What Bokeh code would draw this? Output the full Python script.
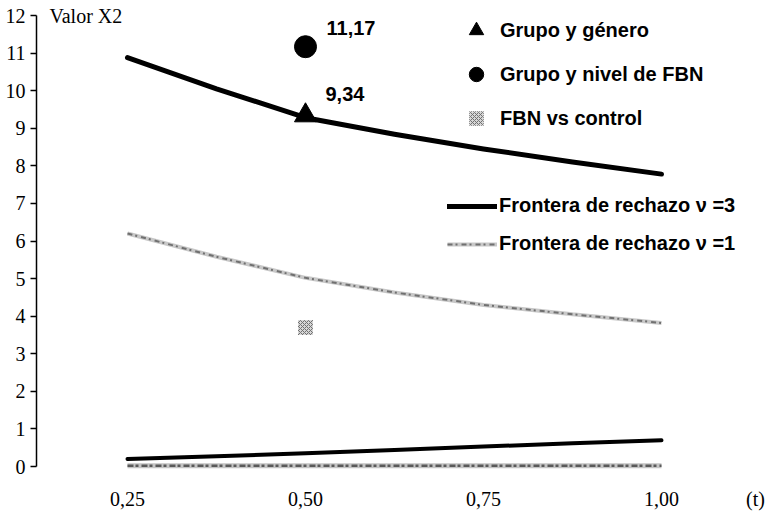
from bokeh.plotting import figure
from bokeh.models import (ColumnDataSource, Legend, LegendItem, Label,
                          FixedTicker, Range1d)
from bokeh.core.properties import value
from bokeh.embed import file_html
from bokeh.resources import INLINE

# Proportion t on the horizontal axis
t = [0.25, 0.375, 0.50, 0.625, 0.75, 0.875, 1.00]

# Rejection frontiers (upper and lower) for nu = 3 and nu = 1
upper_nu3 = [10.88, 10.05, 9.28, 8.84, 8.45, 8.10, 7.78]
lower_nu3 = [0.20, 0.27, 0.35, 0.44, 0.53, 0.62, 0.70]
upper_nu1 = [6.20, 5.58, 5.02, 4.63, 4.30, 4.05, 3.82]
lower_nu1 = [0.02, 0.02, 0.02, 0.02, 0.02, 0.02, 0.02]

# Observed X2 values at t = 0,50
point_t = [0.50]
grupo_genero = [9.34]
grupo_fbn = [11.17]
fbn_control = [3.70]

x_ticks = [0.25, 0.50, 0.75, 1.00]
x_tick_labels = ["0,25", "0,50", "0,75", "1,00"]
y_ticks = list(range(0, 13))

SERIF = "Liberation Serif"
SANS = "Liberation Sans"

X_MIN, X_MAX = 0.1222, 1.1545

p = figure(width=771, height=512, output_backend="svg", toolbar_location=None,
           x_range=Range1d(X_MIN, X_MAX), y_range=Range1d(-0.133, 12.213),
           min_border_left=36, min_border_right=0, min_border_top=7,
           min_border_bottom=41)
p.outline_line_color = None
p.grid.visible = False
p.background_fill_color = "white"
p.border_fill_color = "white"

# y axis
p.yaxis.ticker = FixedTicker(ticks=y_ticks)
p.yaxis.bounds = (0, 12)
p.yaxis.axis_line_width = 1.5
p.yaxis.axis_line_color = "black"
p.yaxis.major_tick_out = 6
p.yaxis.major_tick_in = 0
p.yaxis.major_tick_line_width = 1.5
p.yaxis.minor_tick_line_color = None
p.yaxis.major_label_standoff = 5
p.yaxis.major_label_text_font = SERIF
p.yaxis.major_label_text_font_size = "20px"
p.yaxis.major_label_text_color = "black"

# x axis: labels only, with the "(t)" caption sitting in the same row
t_caption_pos = 1.132
p.xaxis.ticker = FixedTicker(ticks=x_ticks + [t_caption_pos])
overrides = dict(zip(x_ticks, x_tick_labels))
overrides[t_caption_pos] = "(t)"
p.xaxis.major_label_overrides = overrides
p.xaxis.axis_line_color = None
p.xaxis.major_tick_line_color = None
p.xaxis.minor_tick_line_color = None
p.xaxis.major_label_standoff = 10
p.xaxis.major_label_text_font = SERIF
p.xaxis.major_label_text_font_size = "20px"
p.xaxis.major_label_text_color = "black"

src = ColumnDataSource(dict(t=t, u3=upper_nu3, l3=lower_nu3,
                            u1=upper_nu1, l1=lower_nu1))

# nu = 1 frontier: grey textured stroke
g1a = p.line("t", "u1", source=src, line_color="#c8c8c8", line_width=4)
g1b = p.line("t", "u1", source=src, line_color="#707070", line_width=2,
             line_dash="5 3 2 4")
g2a = p.line("t", "l1", source=src, line_color="#c4c4c4", line_width=5)
g2b = p.line("t", "l1", source=src, line_color="#5a5a5a", line_width=2.5,
             line_dash="6 2 3 3")

# nu = 3 frontier: thick black
b1 = p.line("t", "u3", source=src, line_color="black", line_width=5,
            line_cap="round", line_join="round")
b2 = p.line("t", "l3", source=src, line_color="black", line_width=4,
            line_cap="round", line_join="round")

# observed values
pts = ColumnDataSource(dict(t=point_t, gg=grupo_genero, gf=grupo_fbn,
                            fc=fbn_control,
                            gg_lab=[f"{v:.2f}".replace(".", ",") for v in grupo_genero],
                            gf_lab=[f"{v:.2f}".replace(".", ",") for v in grupo_fbn]))
tri = p.scatter("t", "gg", source=pts, marker="triangle", size=22,
                fill_color="black", line_color="black")
cir = p.scatter("t", "gf", source=pts, marker="circle", size=22,
                fill_color="black", line_color="black")
sq = p.scatter("t", "fc", source=pts, marker="square", size=15,
               fill_color="#d6d6d6", line_color=None,
               hatch_pattern="diagonal_cross", hatch_color="#707070",
               hatch_scale=4, hatch_weight=1)

p.text("t", "gf", text="gf_lab", source=pts, x_offset=21, y_offset=-19,
       text_font=value(SANS), text_font_style="bold", text_font_size="20px",
       text_baseline="middle", text_align="left", text_color="black")
p.text("t", "gg", text="gg_lab", source=pts, x_offset=20, y_offset=-21,
       text_font=value(SANS), text_font_style="bold", text_font_size="20px",
       text_baseline="middle", text_align="left", text_color="black")

# y axis title at the top of the axis
p.add_layout(Label(x=13, y=456, x_units="screen", y_units="screen",
                   text="Valor  X2", text_font=SERIF, text_font_size="20px",
                   text_baseline="middle", text_align="left",
                   text_color="black"))

# legends
marker_legend = Legend(items=[
    LegendItem(label="Grupo y género", renderers=[tri]),
    LegendItem(label="Grupo y nivel de FBN", renderers=[cir]),
    LegendItem(label="FBN vs control", renderers=[sq]),
], location=(422, 335), glyph_width=36, glyph_height=36, label_height=20,
    spacing=8, padding=0, margin=0, label_standoff=6)
line_legend = Legend(items=[
    LegendItem(label="Frontera de rechazo ν =3", renderers=[b1]),
    LegendItem(label="Frontera de rechazo ν =1", renderers=[g1a, g1b]),
], location=(411, 216), glyph_width=50, glyph_height=20, label_height=20,
    spacing=15, padding=0, margin=0, label_standoff=2)

for lg in (marker_legend, line_legend):
    lg.border_line_color = None
    lg.background_fill_alpha = 0
    lg.label_text_font = SANS
    lg.label_text_font_style = "bold"
    lg.label_text_font_size = "20px"
    lg.label_text_color = "black"
    lg.label_text_baseline = "middle"
    p.add_layout(lg)

open("out.html", "w").write(file_html(p, INLINE))
